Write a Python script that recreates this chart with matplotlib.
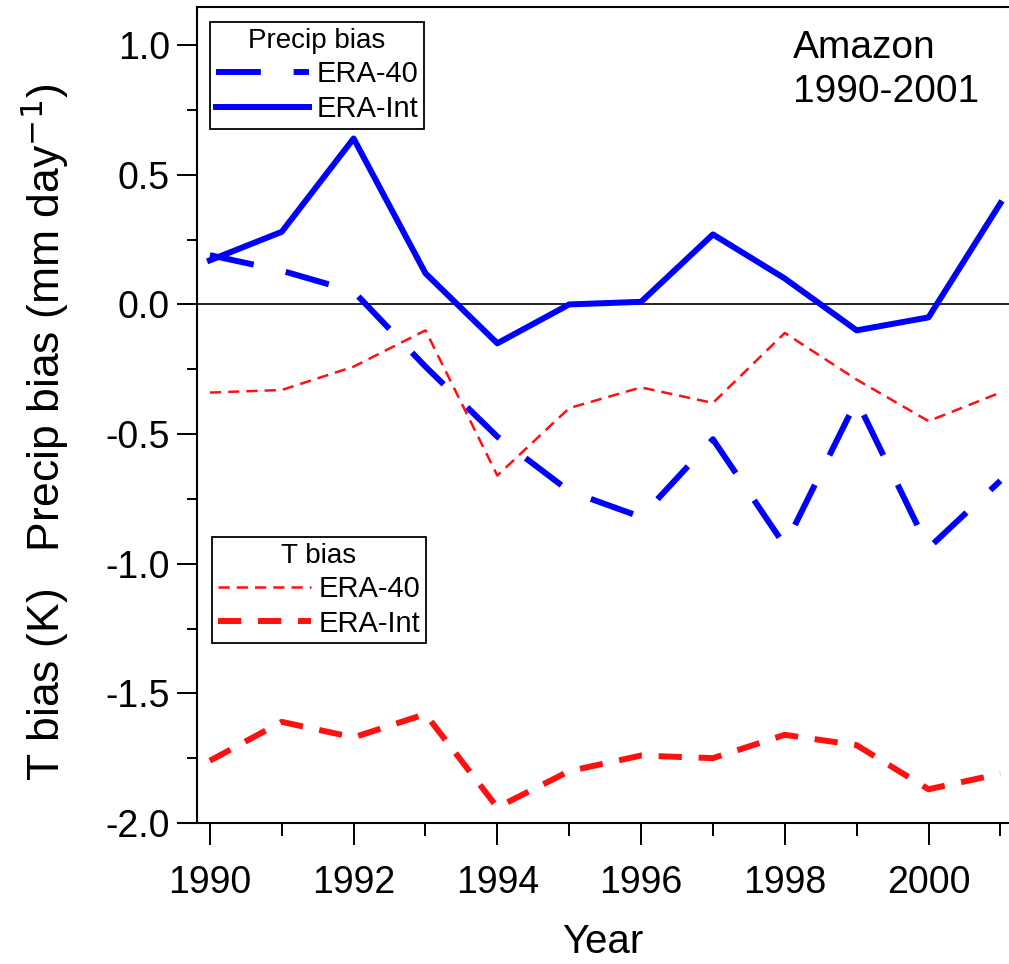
import matplotlib
matplotlib.use('Agg')
import matplotlib.pyplot as plt
from matplotlib.ticker import MultipleLocator

plt.rcParams['font.family'] = ['Liberation Sans', 'DejaVu Sans']

years = [1990, 1991, 1992, 1993, 1994, 1995, 1996, 1997, 1998, 1999, 2000, 2001]

precip_era40 = [0.19, 0.13, 0.05, -0.24, -0.51, -0.72, -0.82, -0.52, -0.93, -0.37, -0.94, -0.68]
precip_eraint = [0.17, 0.28, 0.64, 0.12, -0.15, 0.0, 0.01, 0.27, 0.10, -0.10, -0.05, 0.39]
t_era40 = [-0.34, -0.33, -0.24, -0.10, -0.66, -0.40, -0.32, -0.38, -0.11, -0.29, -0.45, -0.34]
t_eraint = [-1.76, -1.61, -1.67, -1.58, -1.94, -1.80, -1.74, -1.75, -1.66, -1.70, -1.87, -1.81]

blue = '#0000ff'
red = '#ff1010'

fig = plt.figure(figsize=(10.09, 9.64), dpi=100)
ax = fig.add_axes([0.1952, 0.1463, 0.8048, 0.8464])

ax.axhline(0, color='black', lw=1.2, zorder=1)

p40, = ax.plot(years, precip_era40, color=blue, lw=4.3, dashes=(7.5, 5.5), label='ERA-40')
pint, = ax.plot(years, precip_eraint, color=blue, lw=4.3, label='ERA-Int')
t40, = ax.plot(years, t_era40, color=red, lw=1.8, dashes=(4.5, 2.8), label='ERA-40')
tint, = ax.plot(years, t_eraint, color=red, lw=4.3, dashes=(3.9, 2.8), label='ERA-Int')

ax.set_xlim(1989.82, 2001.12)
ax.set_ylim(-2.0, 1.147)

ax.xaxis.set_major_locator(MultipleLocator(2))
ax.xaxis.set_minor_locator(MultipleLocator(1))
ax.yaxis.set_major_locator(MultipleLocator(0.5))
ax.yaxis.set_minor_locator(MultipleLocator(0.25))
ax.yaxis.set_major_formatter(matplotlib.ticker.FormatStrFormatter('%.1f'))

ax.tick_params(axis='both', which='major', labelsize=27, width=1.4, color='black')
ax.tick_params(axis='y', which='major', length=14.5, pad=5)
ax.tick_params(axis='y', which='minor', length=7, width=1.4)
ax.tick_params(axis='x', which='major', length=16, pad=14)
ax.tick_params(axis='x', which='minor', length=9, width=1.4)

ax.spines['right'].set_visible(False)
for s in ['left', 'top', 'bottom']:
    ax.spines[s].set_linewidth(1.5)
ax.spines['bottom'].set_bounds(1989.55, 2001.2)

ax.set_xlabel('Year', fontsize=29, labelpad=16)
ax.set_ylabel('T bias (K)   Precip bias (mm day$^{-1}$)', fontsize=32)
ax.yaxis.set_label_coords(-0.155, 0.479)

leg1 = ax.legend(handles=[p40, pint], title='Precip bias', loc='upper left',
                 bbox_to_anchor=(0.016, 0.9816), borderaxespad=0, fontsize=21,
                 title_fontsize=20, handlelength=3.2, handletextpad=0.25,
                 borderpad=0.2, labelspacing=0.22, fancybox=False, framealpha=1,
                 edgecolor='black')
leg1.get_frame().set_linewidth(1.3)
ax.add_artist(leg1)

leg2 = ax.legend(handles=[t40, tint], title='T bias', loc='upper left',
                 bbox_to_anchor=(0.0185, 0.3505), borderaxespad=0, fontsize=21,
                 title_fontsize=20, handlelength=3.2, handletextpad=0.25,
                 borderpad=0.2, labelspacing=0.22, fancybox=False, framealpha=1,
                 edgecolor='black')
leg2.get_frame().set_linewidth(1.3)

ax.text(0.734, 0.972, 'Amazon\n1990-2001', transform=ax.transAxes, fontsize=28,
        ha='left', va='top', linespacing=1.3)

fig.savefig('out.png', dpi=100)
